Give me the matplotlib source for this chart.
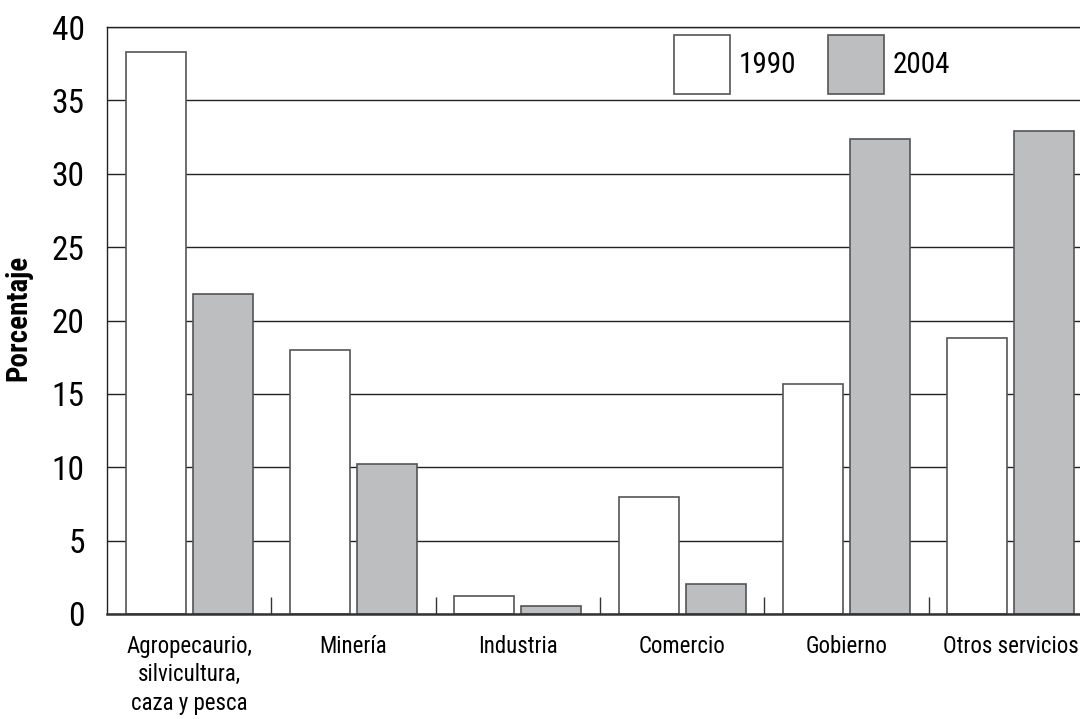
import numpy as np
import matplotlib
matplotlib.use("Agg")
import matplotlib.pyplot as plt
from matplotlib.patches import Patch

plt.rcParams['font.family'] = ['Roboto Condensed', 'Liberation Sans Narrow', 'Liberation Sans', 'DejaVu Sans']

categories = ["Agropecaurio,\nsilvicultura,\ncaza y pesca", "Minería", "Industria",
              "Comercio", "Gobierno", "Otros servicios"]
series_labels = ["1990", "2004"]
values_1990 = [38.3, 18.0, 1.2, 8.0, 15.7, 18.8]
values_2004 = [21.8, 10.2, 0.55, 2.05, 32.4, 32.9]
y_ticks = [0, 5, 10, 15, 20, 25, 30, 35, 40]

W, H = 1080, 719
fig = plt.figure(figsize=(W / 100, H / 100), dpi=100)
ax = fig.add_axes([107 / W, (H - 614) / H, 986 / W, 587 / H])

x = np.arange(len(categories))
bw = 0.365
off = 0.203
edge = "#555555"
ax.bar(x - off, values_1990, bw, color="white", edgecolor=edge, linewidth=1.2, zorder=3)
ax.bar(x + off, values_2004, bw, color="#bdbec0", edgecolor=edge, linewidth=1.2, zorder=3)

ax.set_xlim(-0.5, len(categories) - 0.5)
ax.set_ylim(0, 40)
ax.set_yticks(y_ticks)
ax.set_yticklabels([str(t) for t in y_ticks], fontsize=24)
ax.tick_params(axis="y", length=0, pad=16)

ax.set_xticks(x)
ax.set_xticklabels(categories, fontsize=16.5, linespacing=1.3, va="top")
ax.tick_params(axis="x", which="major", length=0, pad=15)
ax.set_xticks(x[1:] - 0.5, minor=True)
ax.tick_params(axis="x", which="minor", direction="in", length=12, width=1, color="#333333")

ax.yaxis.grid(True, color="#222222", linewidth=1.0, zorder=0)
ax.set_axisbelow(True)
for s in ["left", "top", "right"]:
    ax.spines[s].set_color("#222222")
    ax.spines[s].set_linewidth(1.0)
ax.spines["bottom"].set_color("#333333")
ax.spines["bottom"].set_linewidth(1.8)
ax.spines["bottom"].set_zorder(4)

ax.set_ylabel("Porcentaje", fontsize=21, fontweight="bold")
ax.yaxis.set_label_coords(-0.076, 0.505)

handles = [Patch(facecolor="white", edgecolor=edge, linewidth=1.2),
           Patch(facecolor="#bdbec0", edgecolor=edge, linewidth=1.2)]
leg = ax.legend(handles, series_labels, loc="upper left", bbox_to_anchor=(0.567, 1.0),
                ncol=2, frameon=False, fontsize=21, handlelength=1.93, handleheight=2.74,
                handletextpad=0.28, columnspacing=1.1, borderaxespad=0, borderpad=0.27)

fig.savefig("out.png", dpi=100)
